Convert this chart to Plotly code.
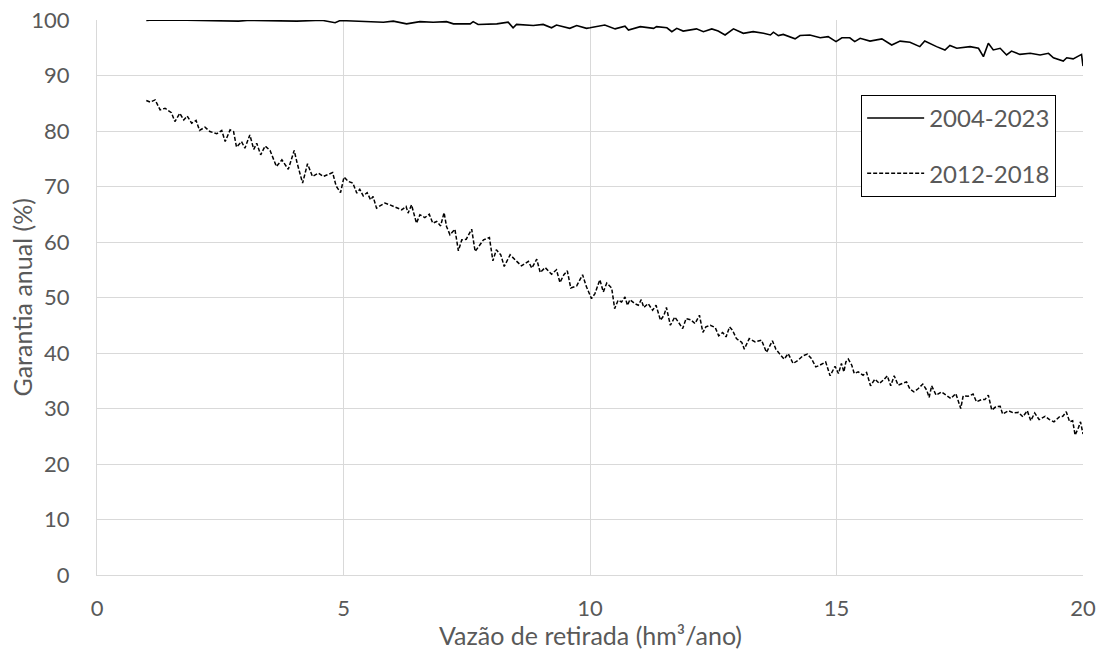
import plotly.graph_objects as go

# Series 2004-2023 (solid)
x_2004_2023 = [1.00, 1.14, 1.82, 2.87, 3.10, 4.05, 4.56, 4.73, 4.83, 4.93, 5.20, 5.47, 5.81, 6.01, 6.28,
               6.55, 6.82, 7.09, 7.23, 7.57, 7.63, 7.73, 8.11, 8.34, 8.44, 8.51, 8.85, 9.05, 9.22, 9.32,
               9.59, 9.73, 9.93, 10.00, 10.14, 10.30, 10.51, 10.71, 10.78, 11.02, 11.29, 11.35, 11.56,
               11.66, 11.76, 11.89, 12.16, 12.30, 12.47, 12.60, 12.74, 12.91, 13.11, 13.31, 13.52, 13.66,
               13.72, 13.82, 13.92, 14.06, 14.16, 14.26, 14.46, 14.67, 14.83, 14.99, 15.11, 15.27, 15.37,
               15.48, 15.68, 15.92, 16.12, 16.29, 16.49, 16.69, 16.79, 17.03, 17.20, 17.30, 17.44, 17.71,
               17.88, 17.98, 18.08, 18.18, 18.32, 18.45, 18.55, 18.72, 18.93, 19.13, 19.30, 19.40, 19.60,
               19.67, 19.80, 19.97, 20.00]
y_2004_2023 = [99.9, 100.0, 99.95, 99.8, 99.95, 99.8, 99.95, 99.7, 99.5, 99.9, 99.8, 99.6, 99.6, 99.8, 99.3,
               99.7, 99.6, 99.7, 99.3, 99.3, 99.7, 99.2, 99.3, 99.6, 98.6, 99.2, 99.0, 99.2, 98.6, 99.1,
               98.5, 99.0, 98.5, 98.6, 98.8, 99.1, 98.4, 98.9, 98.2, 98.8, 98.5, 98.8, 98.6,
               97.9, 98.5, 98.0, 98.4, 97.9, 98.4, 98.0, 97.3, 98.4, 97.6, 97.9, 97.6, 97.3,
               97.8, 97.2, 97.4, 97.0, 96.6, 97.2, 97.3, 96.8, 97.0, 96.1, 96.8, 96.8, 96.1,
               96.7, 96.2, 96.6, 95.5, 96.2, 96.0, 95.2, 96.2, 95.2, 94.6, 95.4, 94.9, 95.2,
               94.9, 93.4, 95.8, 94.6, 94.9, 93.7, 94.4, 93.8, 94.0, 93.7, 94.0, 93.2, 92.6,
               93.2, 93.0, 93.8, 91.7]

# Series 2012-2018 (dashed)
x_2012_2018 = [1.00, 1.08, 1.18, 1.28, 1.38, 1.51, 1.58, 1.68, 1.76, 1.83, 1.92, 2.01, 2.08, 2.19, 2.29,
               2.43, 2.53, 2.60, 2.70, 2.77, 2.83, 2.93, 3.00, 3.10, 3.18, 3.24, 3.32, 3.41, 3.51, 3.64,
               3.75, 3.88, 4.00, 4.06, 4.17, 4.27, 4.37, 4.49, 4.59, 4.69, 4.78, 4.85, 4.94, 5.01, 5.10,
               5.19, 5.27, 5.33, 5.40, 5.48, 5.55, 5.60, 5.67, 5.74, 5.84, 5.94, 6.08, 6.18, 6.27, 6.31,
               6.38, 6.48, 6.55, 6.65, 6.74, 6.81, 6.89, 6.97, 7.04, 7.09, 7.16, 7.26, 7.33, 7.40, 7.49,
               7.60, 7.67, 7.77, 7.84, 7.96, 8.03, 8.10, 8.19, 8.26, 8.38, 8.48, 8.61, 8.75, 8.82, 8.92,
               8.99, 9.09, 9.22, 9.32, 9.39, 9.47, 9.54, 9.61, 9.73, 9.85, 9.92, 10.03, 10.10, 10.20,
               10.27, 10.34, 10.44, 10.50, 10.57, 10.64, 10.71, 10.76, 10.81, 10.91, 10.98, 11.04, 11.09,
               11.18, 11.27, 11.34, 11.43, 11.50, 11.55, 11.63, 11.72, 11.79, 11.88, 11.95, 12.04, 12.13,
               12.22, 12.29, 12.35, 12.44, 12.54, 12.61, 12.69, 12.76, 12.83, 12.89, 12.97, 13.08, 13.13,
               13.23, 13.35, 13.48, 13.58, 13.70, 13.77, 13.85, 13.94, 14.02, 14.12, 14.22, 14.32, 14.41,
               14.49, 14.58, 14.66, 14.78, 14.87, 14.97, 15.04, 15.10, 15.15, 15.19, 15.24, 15.31, 15.36,
               15.44, 15.54, 15.61, 15.69, 15.78, 15.87, 15.96, 16.03, 16.10, 16.17, 16.25, 16.34, 16.42,
               16.49, 16.57, 16.66, 16.75, 16.83, 16.88, 16.93, 17.02, 17.13, 17.23, 17.32, 17.42, 17.52,
               17.57, 17.67, 17.77, 17.84, 17.94, 18.01, 18.08, 18.15, 18.23, 18.32, 18.37, 18.49, 18.59,
               18.69, 18.78, 18.87, 18.94, 19.02, 19.11, 19.23, 19.32, 19.41, 19.52, 19.59, 19.66, 19.73,
               19.79, 19.84, 19.91, 19.95, 20.00]
y_2012_2018 = [85.5, 85.2, 85.6, 83.8, 84.1, 83.3, 81.7, 83.2, 82.0, 82.7, 81.4, 81.9, 80.1, 80.7, 79.9,
               79.5, 80.1, 78.1, 80.2, 79.9, 77.1, 78.1, 76.9, 79.3, 76.7, 77.8, 75.7, 77.3, 76.5, 73.6,
               74.8, 73.1, 76.5, 74.2, 70.6, 74.1, 71.8, 72.4, 71.8, 72.1, 72.5, 70.1, 68.9, 71.7, 70.9,
               70.6, 68.8, 69.5, 68.3, 68.9, 67.6, 68.2, 66.1, 66.5, 67.0, 66.7, 66.1, 65.8, 66.4, 65.2,
               66.7, 63.4, 64.9, 64.4, 65.0, 63.4, 63.7, 62.9, 65.3, 62.8, 61.3, 62.3, 58.4, 60.4, 60.5,
               62.3, 58.3, 59.5, 60.4, 60.8, 56.6, 58.6, 57.7, 55.6, 57.7, 56.8, 55.7, 56.5, 55.3, 56.9,
               54.5, 55.4, 54.2, 55.0, 52.7, 54.1, 54.8, 51.7, 52.1, 54.1, 52.1, 49.8, 50.7, 53.2,
               51.0, 52.6, 51.7, 48.0, 49.5, 49.2, 50.1, 48.6, 49.6, 48.9, 48.6, 49.6, 48.2,
               48.9, 47.7, 48.6, 45.9, 46.8, 48.2, 45.0, 46.5, 45.6, 44.4, 46.2, 46.0, 45.3,
               46.8, 43.7, 44.7, 45.0, 44.6, 43.1, 43.7, 42.9, 44.7, 44.1, 42.6, 41.9, 40.7,
               42.6, 42.0, 42.3, 40.1, 42.2, 40.7, 39.8, 38.9, 39.9, 38.1, 38.7, 39.5, 39.8,
               39.0, 37.5, 37.8, 38.4, 35.9, 37.6, 36.3, 38.1, 36.6, 38.4, 38.9, 37.8, 36.3,
               36.6, 36.0, 36.5, 34.1, 35.3, 34.5, 35.2, 35.9, 34.1, 35.9, 34.2, 34.5, 34.8,
               33.5, 33.0, 33.6, 34.4, 33.3, 32.0, 34.1, 32.4, 33.0, 32.4, 31.8, 32.7, 30.0,
               32.3, 32.2, 32.6, 31.2, 31.6, 31.6, 32.4, 29.7, 30.3, 30.4, 29.0, 29.6, 29.2,
               29.3, 28.5, 29.6, 27.8, 29.2, 28.0, 28.6, 28.0, 27.6, 28.5, 28.6, 29.4, 27.6,
               27.8, 25.2, 26.6, 27.6, 25.4]

series_names = ["2004-2023", "2012-2018"]
x_ticks = [0, 5, 10, 15, 20]
y_ticks = [0, 10, 20, 30, 40, 50, 60, 70, 80, 90, 100]
x_title = "Vazão de retirada (hm³/ano)"
y_title = "Garantia anual (%)"

FONT = "Lato, 'Open Sans', 'Liberation Sans', sans-serif"
GRAY = "#595959"
GRID = "#d9d9d9"

fig = go.Figure()
fig.add_trace(go.Scatter(x=x_2004_2023, y=y_2004_2023, mode="lines", name=series_names[0],
                         legendgroup="a", line=dict(color="black", width=1.6)))
fig.add_trace(go.Scatter(x=x_2012_2018, y=y_2012_2018, mode="lines", name=series_names[1],
                         legendgroup="b", line=dict(color="black", width=1.5, dash="4px,2px")))

fig.update_layout(
    width=1102, height=653,
    margin=dict(l=97, r=19, t=20, b=78, autoexpand=False),
    paper_bgcolor="white", plot_bgcolor="white",
    font=dict(family=FONT, size=22, color=GRAY),
    legend=dict(x=0.775, y=0.865, xanchor="left", yanchor="top",
                bordercolor="black", borderwidth=1, bgcolor="white",
                font=dict(family=FONT, size=24, color=GRAY),
                itemwidth=57,
                traceorder="grouped", tracegroupgap=21),
    showlegend=True,
    annotations=[
        dict(text=y_title, xref="paper", yref="paper", x=0, y=0.5, xanchor="center", yanchor="middle",
             xshift=-76, textangle=-90, showarrow=False, font=dict(family=FONT, size=25, color=GRAY)),
        dict(text=x_title, xref="paper", yref="paper", x=0.5, y=0, xanchor="center", yanchor="middle",
             yshift=-60, showarrow=False, font=dict(family=FONT, size=25, color=GRAY)),
    ],
)
fig.update_xaxes(range=[0, 20], tickvals=x_ticks, showgrid=True, gridcolor=GRID, gridwidth=1,
                 showline=True, linecolor=GRID, linewidth=1, zeroline=False, ticks="",
                 automargin=False, ticklabeloverflow="allow",
                 tickfont=dict(size=22, color=GRAY), ticklabelstandoff=14)
fig.update_yaxes(range=[0, 100], tickvals=y_ticks, showgrid=True, gridcolor=GRID, gridwidth=1,
                 showline=True, linecolor=GRID, linewidth=1, zeroline=False, ticks="",
                 automargin=False, ticklabeloverflow="allow",
                 tickfont=dict(size=22, color=GRAY), ticklabelstandoff=22)

# remove the default 8px page margin so the 1102x653 figure fills the window exactly
fig.write_html("out.html", config={"displayModeBar": False},
               post_script="document.body.style.margin='0';")
